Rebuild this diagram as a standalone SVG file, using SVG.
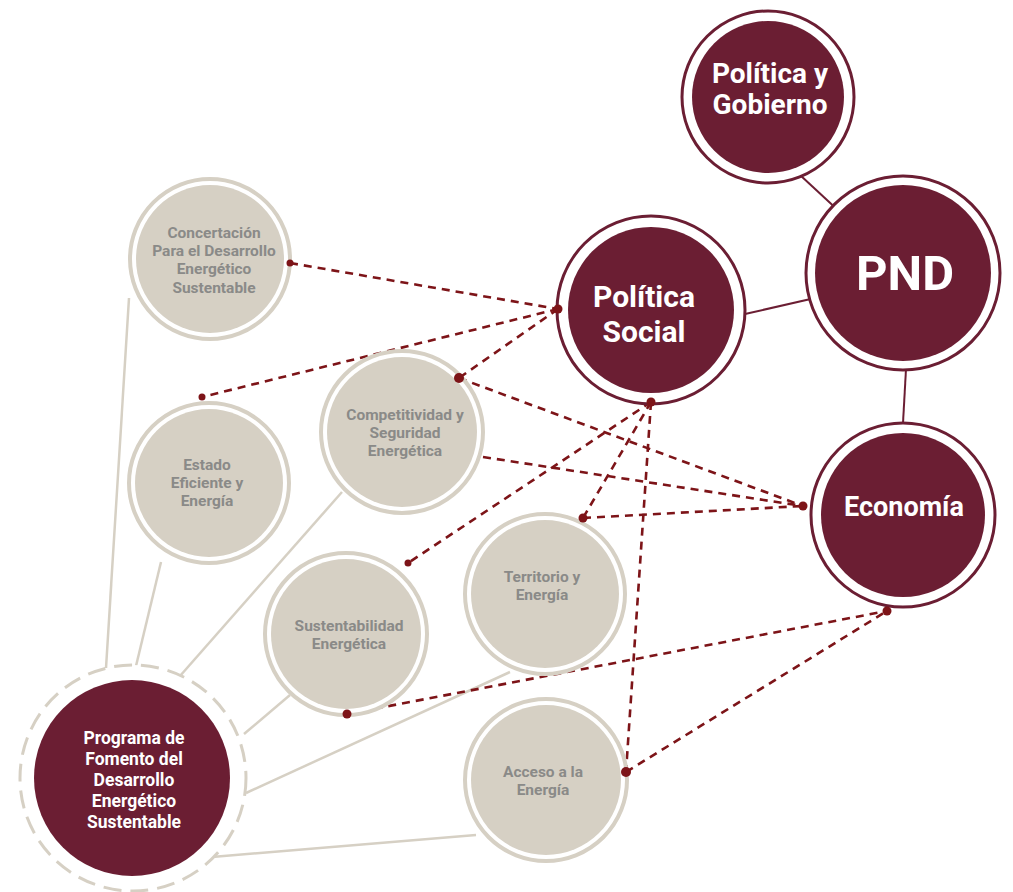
<svg xmlns="http://www.w3.org/2000/svg" width="1013" height="892" viewBox="0 0 1013 892">
<defs>
<style>
.bg{fill:#ffffff}
.mring{fill:#ffffff;stroke:#6b1e33;stroke-width:3}
.mfill{fill:#6b1e33}
.bring{fill:#ffffff;stroke:#d6d0c4;stroke-width:4}
.bfill{fill:#d6d0c4}
.dring{fill:#ffffff;stroke:#d6d0c4;stroke-width:3;stroke-dasharray:18 9}
.mt{font-family:Roboto,"Liberation Sans",sans-serif;font-weight:700;fill:#ffffff;text-anchor:middle}
.bt{font-family:Roboto,"Liberation Sans",sans-serif;font-weight:700;fill:#8a8a88;text-anchor:middle;font-size:15.5px}
.solid{stroke:#6b1e33;stroke-width:2;fill:none}
.beige{stroke:#d6d0c4;stroke-width:2.5;fill:none}
.dash{stroke:#7d1418;stroke-width:2.6;fill:none;stroke-dasharray:8 6}
.dot{fill:#7d1418}
</style>
</defs>
<rect class="bg" x="0" y="0" width="1013" height="892"/>
<g id="connectors">
<line class="beige" x1="106" y1="668" x2="129" y2="298"/>
<line class="beige" x1="136" y1="666" x2="161" y2="562"/>
<line class="beige" x1="180" y1="676" x2="342" y2="492"/>
<line class="beige" x1="244" y1="734" x2="290" y2="695"/>
<line class="beige" x1="246" y1="793" x2="510" y2="672"/>
<line class="beige" x1="212" y1="857" x2="476" y2="835"/>
<line class="solid" x1="800" y1="175" x2="841" y2="213"/>
<line class="solid" x1="745" y1="314" x2="815" y2="298"/>
<line class="solid" x1="906" y1="369" x2="903" y2="423"/>
<line class="dash" x1="290" y1="263" x2="558" y2="309"/>
<line class="dash" x1="558" y1="309" x2="202" y2="397"/>
<line class="dash" x1="558" y1="309" x2="459" y2="378"/>
<line class="dash" x1="459" y1="378" x2="803" y2="506"/>
<line class="dash" x1="483" y1="457" x2="803" y2="506"/>
<line class="dash" x1="651" y1="402" x2="583" y2="518"/>
<line class="dash" x1="651" y1="402" x2="408" y2="563"/>
<line class="dash" x1="651" y1="402" x2="626" y2="772"/>
<line class="dash" x1="583" y1="518" x2="803" y2="506"/>
<line class="dash" x1="347" y1="714" x2="887" y2="611"/>
<line class="dash" x1="626" y1="772" x2="887" y2="611"/>
</g>
<g id="politica-gobierno">
<circle class="mring" cx="768" cy="97" r="86"/>
<circle class="mfill" cx="768" cy="97" r="76"/>
<text class="mt" font-size="28" x="770" y="83">Política y</text>
<text class="mt" font-size="28" x="770" y="114">Gobierno</text>
</g>
<g id="pnd">
<circle class="mring" cx="903" cy="273" r="97"/>
<circle class="mfill" cx="903" cy="273" r="88"/>
<text class="mt" font-size="49" x="905" y="290">PND</text>
</g>
<g id="politica-social">
<circle class="mring" cx="651" cy="310" r="94"/>
<circle class="mfill" cx="651" cy="310" r="83"/>
<text class="mt" font-size="30" x="644" y="307">Política</text>
<text class="mt" font-size="30" x="644" y="342">Social</text>
</g>
<g id="economia">
<circle class="mring" cx="903" cy="515" r="92"/>
<circle class="mfill" cx="903" cy="515" r="82"/>
<text class="mt" font-size="27" x="904" y="516">Economía</text>
</g>
<g id="programa">
<circle class="dring" cx="133" cy="778" r="113"/>
<circle class="mfill" cx="132" cy="778" r="98"/>
<text class="mt" font-size="17.5" x="134" y="744">Programa de</text>
<text class="mt" font-size="17.5" x="134" y="765">Fomento del</text>
<text class="mt" font-size="17.5" x="134" y="786">Desarrollo</text>
<text class="mt" font-size="17.5" x="134" y="807">Energético</text>
<text class="mt" font-size="17.5" x="134" y="828">Sustentable</text>
</g>
<g id="concertacion">
<circle class="bring" cx="210" cy="259" r="80"/>
<circle class="bfill" cx="210" cy="259" r="74"/>
<text class="bt" x="214" y="238">Concertación</text>
<text class="bt" x="214" y="256">Para el Desarrollo</text>
<text class="bt" x="214" y="274">Energético</text>
<text class="bt" x="214" y="293">Sustentable</text>
</g>
<g id="estado">
<circle class="bring" cx="209" cy="483" r="80"/>
<circle class="bfill" cx="209" cy="483" r="74"/>
<text class="bt" x="207" y="470">Estado</text>
<text class="bt" x="207" y="488">Eficiente y</text>
<text class="bt" x="207" y="506">Energía</text>
</g>
<g id="competitividad">
<circle class="bring" cx="402" cy="432" r="81"/>
<circle class="bfill" cx="402" cy="432" r="75"/>
<text class="bt" x="405" y="420">Competitividad y</text>
<text class="bt" x="405" y="438">Seguridad</text>
<text class="bt" x="405" y="456">Energética</text>
</g>
<g id="sustentabilidad">
<circle class="bring" cx="346" cy="634" r="81"/>
<circle class="bfill" cx="346" cy="634" r="75"/>
<text class="bt" x="349" y="631">Sustentabilidad</text>
<text class="bt" x="349" y="649">Energética</text>
</g>
<g id="territorio">
<circle class="bring" cx="545" cy="594" r="80"/>
<circle class="bfill" cx="545" cy="594" r="74"/>
<text class="bt" x="542" y="582">Territorio y</text>
<text class="bt" x="542" y="600">Energía</text>
</g>
<g id="acceso">
<circle class="bring" cx="546" cy="780" r="81"/>
<circle class="bfill" cx="546" cy="780" r="75"/>
<text class="bt" x="543" y="777">Acceso a la</text>
<text class="bt" x="543" y="795">Energía</text>
</g>
<g id="dots">
<circle class="dot" cx="290" cy="263" r="3.5"/>
<circle class="dot" cx="558" cy="309" r="4.5"/>
<circle class="dot" cx="202" cy="397" r="3.5"/>
<circle class="dot" cx="459" cy="378" r="5"/>
<circle class="dot" cx="651" cy="402" r="4.5"/>
<circle class="dot" cx="583" cy="518" r="4.5"/>
<circle class="dot" cx="408" cy="563" r="3.5"/>
<circle class="dot" cx="626" cy="772" r="5"/>
<circle class="dot" cx="347" cy="714" r="4.5"/>
<circle class="dot" cx="803" cy="506" r="4.5"/>
<circle class="dot" cx="887" cy="611" r="4.5"/>
</g>
</svg>
